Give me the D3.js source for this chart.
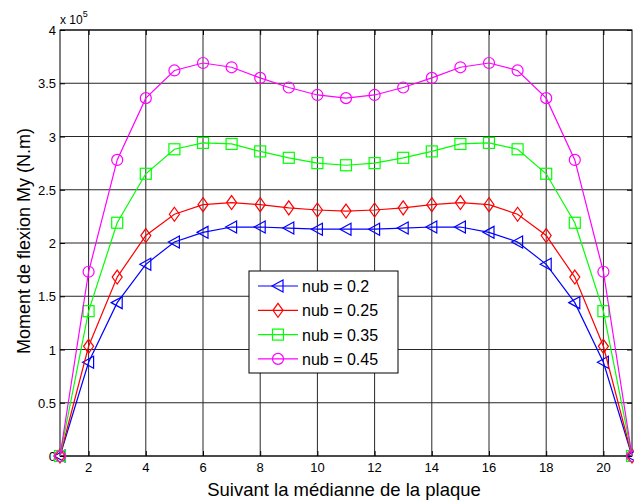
<!DOCTYPE html>
<html>
<head>
<meta charset="utf-8">
<title>Moment de flexion My</title>
<script src="https://d3js.org/d3.v7.min.js"></script>
<style>
  body { margin: 0; background: #fff; }
  text { font-family: Arial, "Liberation Sans", sans-serif; fill: #000; }
</style>
</head>
<body>
<svg id="chart"></svg>
<script>
// positions along the median (x) and bending moments in units of 1e5
const xs = d3.range(1, 22);
const nub02  = [0, 0.88, 1.44, 1.80, 2.01, 2.10, 2.15, 2.15, 2.14, 2.13, 2.13, 2.13, 2.14, 2.15, 2.15, 2.10, 2.01, 1.80, 1.44, 0.88, 0];
const nub025 = [0, 1.03, 1.68, 2.07, 2.27, 2.36, 2.38, 2.36, 2.33, 2.31, 2.30, 2.31, 2.33, 2.36, 2.38, 2.36, 2.27, 2.07, 1.68, 1.03, 0];
const nub035 = [0, 1.36, 2.19, 2.65, 2.88, 2.94, 2.93, 2.86, 2.80, 2.75, 2.73, 2.75, 2.80, 2.86, 2.93, 2.94, 2.88, 2.65, 2.19, 1.36, 0];
const nub045 = [0, 1.73, 2.78, 3.36, 3.62, 3.69, 3.65, 3.55, 3.46, 3.39, 3.36, 3.39, 3.46, 3.55, 3.65, 3.69, 3.62, 3.36, 2.78, 1.73, 0];
const xTicks = [2, 4, 6, 8, 10, 12, 14, 16, 18, 20];
const yTicks = [0, 0.5, 1, 1.5, 2, 2.5, 3, 3.5, 4];
const series = [
  {name: 'nub = 0.2',  values: nub02,  color: '#0000ff', marker: 'tri'},
  {name: 'nub = 0.25', values: nub025, color: '#ff0000', marker: 'diamond'},
  {name: 'nub = 0.35', values: nub035, color: '#00ff00', marker: 'square'},
  {name: 'nub = 0.45', values: nub045, color: '#ff00ff', marker: 'circle'}
];

const W = 634, H = 503;
const pL = 60, pR = 632, pT = 30, pB = 456;

const svg = d3.select('#chart').attr('width', W).attr('height', H);

const x = d3.scaleLinear().domain([1, 21]).range([pL, pR]);
const y = d3.scaleLinear().domain([0, 4]).range([pB, pT]);

// grid
let g = svg.append('g');
g.selectAll('.gx').data(xTicks).enter().append('line')
  .attr('x1', d => x(d)).attr('x2', d => x(d))
  .attr('y1', pT).attr('y2', pB)
  .style('stroke', '#262626').style('stroke-width', 1);
g.selectAll('.gy').data(yTicks).enter().append('line')
  .attr('x1', pL).attr('x2', pR)
  .attr('y1', d => y(d)).attr('y2', d => y(d))
  .style('stroke', '#262626').style('stroke-width', 1);

// axes (inward ticks like matlab)
svg.append('g').attr('transform', 'translate(0,' + pB + ')')
  .call(d3.axisTop(x).tickValues(xTicks).tickSize(5).tickFormat(''));
svg.append('g').attr('transform', 'translate(0,' + pT + ')')
  .call(d3.axisBottom(x).tickValues(xTicks).tickSize(5).tickFormat(''));
svg.append('g').attr('transform', 'translate(' + pL + ',0)')
  .call(d3.axisRight(y).tickValues(yTicks).tickSize(5).tickFormat(''));
svg.append('g').attr('transform', 'translate(' + pR + ',0)')
  .call(d3.axisLeft(y).tickValues(yTicks).tickSize(5).tickFormat(''));
svg.selectAll('.domain').remove();
svg.selectAll('.tick line').style('stroke', '#000');

svg.append('rect')
  .attr('x', pL).attr('y', pT)
  .attr('width', pR - pL).attr('height', pB - pT)
  .style('fill', 'none').style('stroke', '#000').style('stroke-width', 1);

// tick labels
svg.selectAll('.xl').data(xTicks).enter().append('text')
  .attr('x', d => x(d)).attr('y', pB + 16)
  .attr('text-anchor', 'middle').style('font-size', '13px')
  .text(d => d);
svg.selectAll('.yl').data(yTicks).enter().append('text')
  .attr('x', pL - 4).attr('y', d => y(d) + 5)
  .attr('text-anchor', 'end').style('font-size', '13px')
  .text(d => d);

// exponent
let ex = svg.append('text').attr('x', pL).attr('y', 24).style('font-size', '12px');
ex.append('tspan').text('x 10');
ex.append('tspan').attr('dy', -7).style('font-size', '9px').text('5');

// axis labels
svg.append('text')
  .attr('x', 344).attr('y', 496)
  .attr('text-anchor', 'middle').style('font-size', '18.5px')
  .text('Suivant la médianne de la plaque');
svg.append('text')
  .attr('transform', 'translate(30,241) rotate(-90)')
  .attr('text-anchor', 'middle').style('font-size', '18px')
  .text('Moment de flexion My (N.m)');

function drawMarker(sel, type, color) {
  if (type === 'circle') {
    sel.append('circle').attr('r', 5.5);
  } else if (type === 'square') {
    sel.append('rect').attr('x', -5.5).attr('y', -5.5).attr('width', 11).attr('height', 11);
  } else if (type === 'diamond') {
    sel.append('path').attr('d', 'M0,-7L5,0L0,7L-5,0Z');
  } else {
    sel.append('path').attr('d', 'M-6,0L5,-6L5,6Z');
  }
  sel.selectAll('*').style('fill', 'none').style('stroke', color).style('stroke-width', 1.2);
}

let line = d3.line().x((d, i) => x(xs[i])).y(d => y(d));

series.forEach(s => {
  svg.append('path')
    .attr('d', line(s.values))
    .style('fill', 'none').style('stroke', s.color).style('stroke-width', 1.2);
  s.values.forEach((v, i) => {
    let m = svg.append('g').attr('transform', 'translate(' + x(xs[i]) + ',' + y(v) + ')');
    drawMarker(m, s.marker, s.color);
  });
});

// legend
let lg = svg.append('g').attr('transform', 'translate(249,271)');
lg.append('rect').attr('width', 149).attr('height', 102)
  .style('fill', '#fff').style('stroke', '#000').style('stroke-width', 1);
series.forEach((s, i) => {
  let cy = 15 + i * 24.3;
  lg.append('line').attr('x1', 9).attr('x2', 49).attr('y1', cy).attr('y2', cy)
    .style('stroke', s.color).style('stroke-width', 1.2);
  let m = lg.append('g').attr('transform', 'translate(29,' + cy + ')');
  drawMarker(m, s.marker, s.color);
  lg.append('text').attr('x', 53).attr('y', cy + 6)
    .style('font-size', '16px').text(s.name);
});
</script>
</body>
</html>
